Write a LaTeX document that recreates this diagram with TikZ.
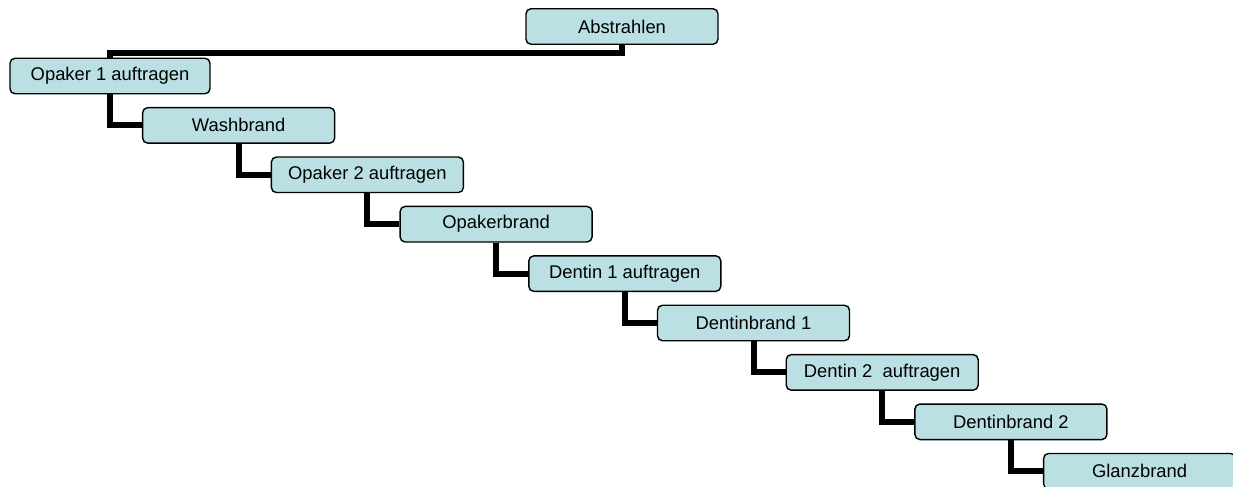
\documentclass[tikz,border=0pt]{standalone}
\usepackage{fontspec}
\setmainfont{Liberation Sans}
\usetikzlibrary{positioning}
\definecolor{boxfill}{RGB}{187,224,227}

\begin{document}
\begin{tikzpicture}[x=1bp, y=1bp,
                    node distance=49.4bp and 128.7bp, on grid,
                    step box/.style={draw=black, line width=1.4bp, fill=boxfill,
                                     rounded corners=5bp, minimum width=192bp,
                                     minimum height=35.5bp, inner sep=0pt,
                                     font=\fontsize{18.4bp}{22bp}\selectfont},
                    link/.style={line width=6bp}]
\useasboundingbox (0,-487) rectangle (1233,0);
\clip (0,-487) rectangle (1233,0);
% steps of the work
\node[step box]                    (abs)   at (622,-26.5)    {Abstrahlen};
\node[step box,minimum width=200bp] (op1) [below left=49.5bp and 512bp of abs] {Opaker 1 auftragen};
\node[step box]                    (wash)  [below right=of op1]   {Washbrand};
\node[step box]                    (op2)   [below right=of wash]  {Opaker 2 auftragen};
\node[step box]                    (opb)   [below right=of op2]   {Opakerbrand};
\node[step box]                    (den1)  [below right=of opb]   {Dentin 1 auftragen};
\node[step box]                    (denb1) [below right=of den1]  {Dentinbrand 1};
\node[step box]                    (den2)  [below right=of denb1] {Dentin 2\ \ auftragen};
\node[step box]                    (denb2) [below right=of den2]  {Dentinbrand 2};
\node[step box]                    (glanz) [below right=of denb2] {Glanzbrand};

% links between steps
\draw[link] (abs.south) -- ++(0,-8) -| (op1.north)
            (op1.south)   |- (wash.west)
            (wash.south)  |- (op2.west)
            (op2.south)   |- (opb.west)
            (opb.south)   |- (den1.west)
            (den1.south)  |- (denb1.west)
            (denb1.south) |- (den2.west)
            (den2.south)  |- (denb2.west)
            (denb2.south) |- (glanz.west);

\end{tikzpicture}
\end{document}
